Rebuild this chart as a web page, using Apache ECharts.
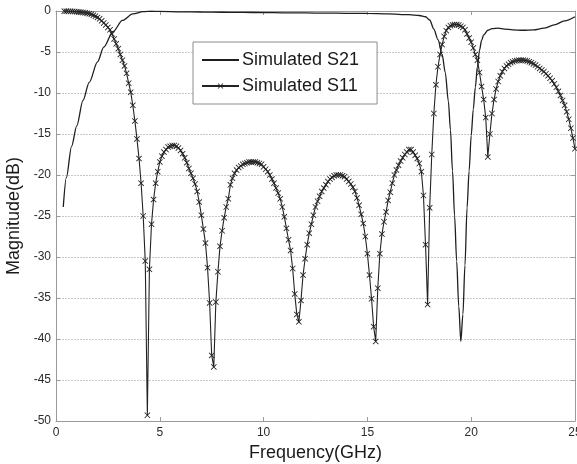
<!DOCTYPE html>
<html>
<head>
<meta charset="utf-8">
<script src="https://cdn.jsdelivr.net/npm/echarts@6/dist/echarts.min.js"></script>
<style>
html,body{margin:0;padding:0;background:#fff;}
#chart{width:577px;height:464px;}
</style>
</head>
<body>
<div id="chart"></div>
<script>
// Tick labels
var xTicks = [0, 5, 10, 15, 20, 25];
var yTicks = [-50, -45, -40, -35, -30, -25, -20, -15, -10, -5, 0];

// Simulated S11: frequency grid (GHz) and magnitude (dB)
var s11Freq = [
 0.4,0.5,0.6,0.7,0.8,0.9,1.0,1.1,1.2,1.3,1.4,1.5,1.6,1.7,1.8,1.9,2.0,2.1,2.2,2.3,2.4,2.5,2.6,2.7,2.8,2.9,
 3.0,3.1,3.2,3.3,3.4,3.5,3.6,3.7,3.8,3.9,4.0,4.1,4.2,4.3,4.4,4.5,4.6,4.7,4.8,4.9,
 5.0,5.1,5.2,5.3,5.4,5.5,5.6,5.7,5.8,5.9,6.0,6.1,6.2,6.3,6.4,6.5,6.6,6.7,6.8,6.9,
 7.0,7.1,7.2,7.3,7.4,7.5,7.6,7.7,7.8,7.9,8.0,8.1,8.2,8.3,8.4,8.5,8.6,8.7,8.8,8.9,
 9.0,9.1,9.2,9.3,9.4,9.5,9.6,9.7,9.8,9.9,10.0,10.1,10.2,10.3,10.4,10.5,10.6,10.7,10.8,10.9,
 11.0,11.1,11.2,11.3,11.4,11.5,11.6,11.7,11.8,11.9,12.0,12.1,12.2,12.3,12.4,12.5,12.6,12.7,12.8,12.9,
 13.0,13.1,13.2,13.3,13.4,13.5,13.6,13.7,13.8,13.9,14.0,14.1,14.2,14.3,14.4,14.5,14.6,14.7,14.8,14.9,
 15.0,15.1,15.2,15.3,15.4,15.5,15.6,15.7,15.8,15.9,16.0,16.1,16.2,16.3,16.4,16.5,16.6,16.7,16.8,16.9,
 17.0,17.1,17.2,17.3,17.4,17.5,17.6,17.7,17.8,17.9,18.0,18.1,18.2,18.3,18.4,18.5,18.6,18.7,18.8,18.9,
 19.0,19.1,19.2,19.3,19.4,19.5,19.6,19.7,19.8,19.9,20.0,20.1,20.2,20.3,20.4,20.5,20.6,20.7,20.8,20.9,
 21.0,21.1,21.2,21.3,21.4,21.5,21.6,21.7,21.8,21.9,22.0,22.1,22.2,22.3,22.4,22.5,22.6,22.7,22.8,22.9,
 23.0,23.1,23.2,23.3,23.4,23.5,23.6,23.7,23.8,23.9,24.0,24.1,24.2,24.3,24.4,24.5,24.6,24.7,24.8,24.9,25.0
];
var s11dB = [
 -0.02,-0.02,-0.03,-0.04,-0.05,-0.07,-0.09,-0.11,-0.14,-0.18,-0.22,-0.27,-0.33,-0.41,-0.51,-0.63,-0.78,-0.96,-1.2,-1.45,-1.7,-2.0,-2.3,-2.8,-3.4,-4.0,
 -4.6,-5.3,-6.0,-6.7,-7.6,-8.8,-9.9,-11.5,-13.4,-15.6,-18.0,-21.0,-25.0,-30.5,-49.3,-31.5,-26.0,-23.0,-21.0,-19.6,
 -18.4,-17.7,-17.2,-16.9,-16.6,-16.5,-16.4,-16.4,-16.5,-16.7,-17.0,-17.4,-17.9,-18.5,-19.2,-19.8,-20.4,-21.1,-22.0,-23.3,
 -24.9,-26.6,-28.3,-31.3,-35.6,-42.0,-43.4,-35.5,-31.8,-28.7,-26.8,-25.2,-23.9,-22.9,-21.2,-20.4,-19.8,-19.4,-19.1,-18.9,
 -18.7,-18.6,-18.5,-18.4,-18.4,-18.4,-18.4,-18.5,-18.6,-18.7,-19.0,-19.3,-19.6,-20.0,-20.5,-21.0,-21.6,-22.2,-22.9,-23.9,
 -25.1,-26.5,-27.9,-29.2,-31.4,-34.5,-37.0,-37.9,-35.3,-32.2,-30.2,-28.5,-27.1,-26.0,-24.9,-23.9,-23.2,-22.6,-22.0,-21.6,
 -21.2,-20.8,-20.5,-20.3,-20.1,-20.0,-20.0,-20.0,-20.1,-20.2,-20.5,-20.8,-21.1,-21.5,-22.0,-22.8,-23.7,-24.8,-25.9,-27.5,
 -29.6,-32.2,-35.1,-38.5,-40.3,-33.8,-29.6,-27.2,-25.7,-24.5,-23.1,-22.1,-21.0,-20.0,-19.4,-18.8,-18.3,-17.9,-17.5,-17.2,
 -16.9,-16.9,-17.2,-17.6,-18.0,-18.6,-19.6,-22.5,-28.5,-35.8,-24.0,-17.5,-12.5,-9.0,-6.8,-5.3,-4.1,-3.1,-2.4,-2.0,
 -1.8,-1.7,-1.65,-1.65,-1.7,-1.85,-2.0,-2.3,-2.8,-3.3,-3.8,-4.5,-5.3,-6.0,-7.5,-9.2,-10.8,-13.0,-17.8,-15.0,
 -12.5,-10.8,-9.5,-8.6,-7.9,-7.4,-7.0,-6.7,-6.5,-6.3,-6.2,-6.1,-6.05,-6.0,-6.0,-6.0,-6.05,-6.1,-6.2,-6.3,
 -6.45,-6.6,-6.8,-7.0,-7.2,-7.4,-7.65,-7.9,-8.2,-8.5,-8.9,-9.3,-9.8,-10.3,-10.9,-11.5,-12.3,-13.2,-14.3,-15.5,-16.8
];

// Simulated S21: frequency (GHz) and magnitude (dB)
var s21Freq = [0.35,0.5,0.75,1.0,1.3,1.6,2.0,2.3,2.75,3.2,3.7,4.2,4.6,5,6,7,8,9,10,11,12,13,14,15,16,17,17.5,17.8,
 18.0,18.2,18.4,18.6,18.75,18.9,19.0,19.1,19.2,19.3,19.4,19.5,19.6,19.7,19.8,19.9,20.0,20.1,20.2,20.3,20.4,20.5,20.6,
 20.8,21.0,21.3,21.6,22.0,22.5,23.0,23.5,24.0,24.5,25];
var s21dB = [-23.9,-20.3,-16.5,-14.0,-10.9,-8.7,-6.2,-4.4,-2.5,-1.15,-0.35,-0.08,-0.03,-0.05,-0.1,-0.12,-0.15,-0.17,-0.2,-0.22,-0.24,-0.26,-0.28,-0.3,-0.35,-0.45,-0.55,-0.7,
 -1.1,-2.2,-3.5,-5.3,-7.5,-11,-14.5,-19.5,-25,-30.5,-36,-40.3,-37,-31,-24,-19.5,-15.2,-12,-9.3,-6.8,-4.8,-3.6,-2.9,
 -2.35,-2.15,-2.1,-2.2,-2.3,-2.35,-2.3,-2.1,-1.7,-1.2,-0.7];

var seriesNames = ['Simulated S21', 'Simulated S11'];

function pairs(xs, ys) {
  var out = [];
  for (var i = 0; i < xs.length; i++) out.push([xs[i], ys[i]]);
  return out;
}

var FONT = "'Liberation Sans', Arial, sans-serif";
var xMark = 'path://M0,1L1,0L5,4L9,0L10,1L6,5L10,9L9,10L5,6L1,10L0,9L4,5Z';

var chart = echarts.init(document.getElementById('chart'), null, {renderer: 'canvas'});
var axisLineStyle = {color: '#9a9a9a', width: 1};
chart.setOption({
  backgroundColor: '#ffffff',
  animation: false,
  grid: {left: 56, right: 2, top: 11, bottom: 43, containLabel: false, outerBoundsMode: 'none'},
  legend: {
    orient: 'vertical',
    left: 193, top: 42,
    padding: [9, 18, 9, 8],
    itemGap: 8,
    itemWidth: 37,
    itemHeight: 7,
    backgroundColor: '#ffffff',
    borderColor: '#8c8c8c',
    borderWidth: 1,
    textStyle: {fontFamily: FONT, fontSize: 18, color: '#1a1a1a', padding: [0, 0, 0, -2]},
    data: [
      {name: seriesNames[0], itemStyle: {opacity: 0}},
      {name: seriesNames[1]}
    ]
  },
  xAxis: [{
    type: 'value', min: xTicks[0], max: xTicks[xTicks.length - 1], interval: 5,
    position: 'bottom',
    name: 'Frequency(GHz)', nameLocation: 'middle', nameGap: 21,
    nameTextStyle: {fontFamily: FONT, fontSize: 18, color: '#1a1a1a'},
    axisLine: {show: true, onZero: false, lineStyle: axisLineStyle},
    axisTick: {show: true, inside: true, length: 4, lineStyle: axisLineStyle},
    axisLabel: {fontFamily: FONT, fontSize: 12, color: '#2a2a2a', margin: 6},
    splitLine: {show: false}
  }, {
    type: 'value', min: xTicks[0], max: xTicks[xTicks.length - 1], interval: 5,
    position: 'top',
    axisLine: {show: true, onZero: false, lineStyle: axisLineStyle},
    axisTick: {show: true, inside: true, length: 4, lineStyle: axisLineStyle},
    axisLabel: {show: false},
    splitLine: {show: false}
  }],
  yAxis: [{
    type: 'value', min: yTicks[0], max: yTicks[yTicks.length - 1], interval: 5,
    position: 'left',
    name: 'Magnitude(dB)', nameLocation: 'middle', nameRotate: 90, nameGap: 32,
    nameTextStyle: {fontFamily: FONT, fontSize: 18, color: '#1a1a1a'},
    axisLine: {show: true, onZero: false, lineStyle: axisLineStyle},
    axisTick: {show: true, inside: true, length: 4, lineStyle: axisLineStyle},
    axisLabel: {fontFamily: FONT, fontSize: 12, color: '#2a2a2a', margin: 5},
    splitLine: {show: true, lineStyle: {color: '#c8c8c8', type: [2, 1], width: 1}}
  }, {
    type: 'value', min: yTicks[0], max: yTicks[yTicks.length - 1], interval: 5,
    position: 'right',
    axisLine: {show: true, onZero: false, lineStyle: axisLineStyle},
    axisTick: {show: true, inside: true, length: 4, lineStyle: axisLineStyle},
    axisLabel: {show: false},
    splitLine: {show: false}
  }],
  series: [{
    name: seriesNames[0],
    type: 'line',
    xAxisIndex: 0, yAxisIndex: 0,
    data: pairs(s21Freq, s21dB),
    showSymbol: false,
    symbol: 'none',
    smooth: 0.3,
    smoothMonotone: 'x',
    lineStyle: {color: '#1e1e1e', width: 1.3},
    itemStyle: {color: '#1e1e1e'},
    z: 3
  }, {
    name: seriesNames[1],
    type: 'line',
    xAxisIndex: 0, yAxisIndex: 0,
    data: pairs(s11Freq, s11dB),
    symbol: xMark,
    symbolSize: 6,
    showSymbol: true,
    showAllSymbol: true,
    lineStyle: {color: '#222222', width: 1.1},
    itemStyle: {color: '#222222'},
    z: 4
  }]
});
</script>
</body>
</html>
